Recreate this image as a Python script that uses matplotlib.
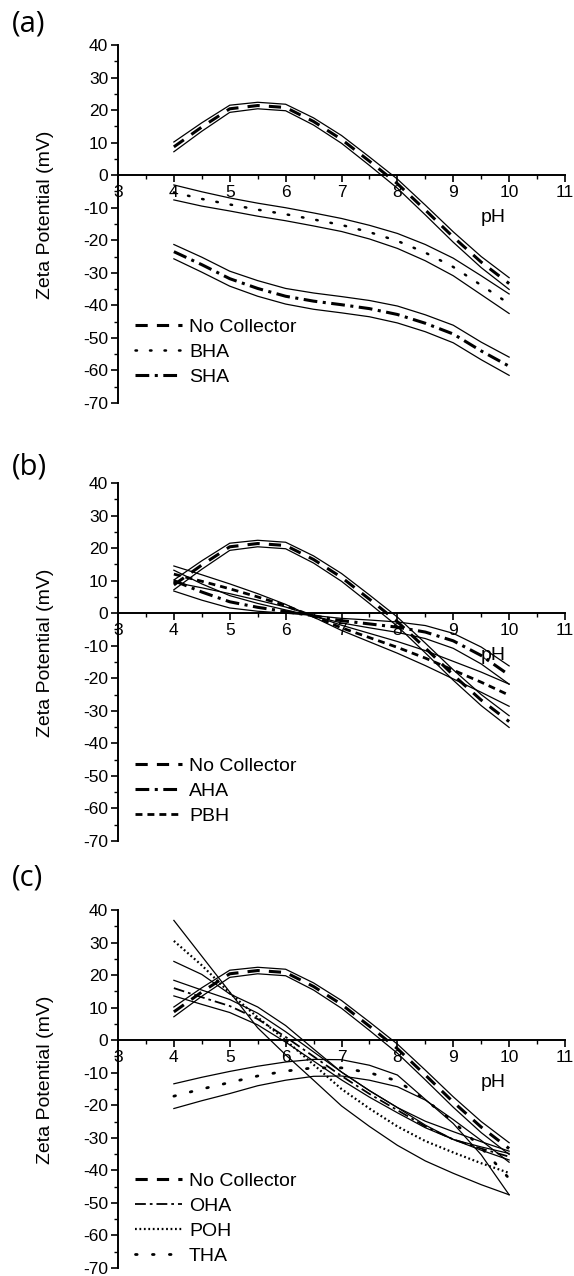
import matplotlib.pyplot as plt
import numpy as np

plt.rcParams['font.family'] = ['Liberation Sans', 'DejaVu Sans']
plt.rcParams['axes.unicode_minus'] = False

ph = [4, 4.5, 5, 5.5, 6, 6.5, 7, 7.5, 8, 8.5, 9, 9.5, 10]

# no collector (same in all three panels); err is half the band width,
# negative where the two band lines cross over
nocol = [8.7, 14.8, 20.4, 21.4, 20.8, 16.5, 11.0, 4.3, -2.6, -10.7, -19.0, -26.7, -33.3]
nocol_err = [1.5, 1.3, 1.1, 1.0, 1.0, 1.1, 1.2, 1.3, 1.4, 1.5, 1.6, 1.7, 1.8]

# panel (a)
bha = [-5.3, -7.3, -9.0, -10.6, -12.0, -13.6, -15.3, -17.5, -20.2, -23.8, -28.2, -33.8, -39.5]
bha_err = [2.3, 2.2, 2.0, 2.0, 2.0, 2.0, 2.0, 2.1, 2.3, 2.5, 2.7, 2.9, 3.0]
sha = [-23.5, -27.5, -31.8, -34.8, -37.2, -38.7, -39.8, -41.0, -42.8, -45.5, -48.8, -54.0, -58.7]
sha_err = [2.2, 2.3, 2.3, 2.4, 2.4, 2.5, 2.5, 2.5, 2.6, 2.6, 2.7, 2.7, 2.8]

# panel (b)
aha = [10.0, 6.5, 3.5, 1.8, 0.5, -0.8, -2.3, -3.3, -4.3, -5.8, -8.5, -13.0, -19.0]
aha_err = [3.2, 2.5, 1.9, 1.2, 0.5, -0.1, -0.7, -1.2, -1.6, -2.0, -2.3, -2.6, -2.8]
pbh = [12.0, 9.8, 7.5, 5.0, 2.3, -1.0, -4.5, -7.5, -10.5, -13.8, -17.5, -21.2, -25.2]
pbh_err = [2.5, 2.0, 1.5, 1.0, 0.4, -0.2, -0.8, -1.3, -1.8, -2.3, -2.7, -3.1, -3.4]

# panel (c)
oha = [16.0, 13.2, 10.5, 6.5, 1.0, -5.0, -11.0, -16.5, -21.5, -26.5, -30.5, -33.3, -35.8]
oha_err = [2.4, 2.2, 2.0, 1.8, 1.6, 1.4, 1.2, 1.0, 0.8, 0.4, 0.0, -0.5, -1.0]
poh = [30.5, 23.0, 14.5, 7.0, 0.0, -7.5, -15.0, -21.0, -26.5, -31.0, -34.5, -37.8, -40.8]
poh_err = [6.3, 2.8, 0.3, -3.2, -4.5, -4.8, -5.2, -5.5, -5.8, -6.1, -6.4, -6.6, -6.7]
tha = [-17.2, -15.0, -13.0, -11.0, -9.5, -8.5, -8.5, -10.0, -12.5, -18.3, -25.0, -33.0, -42.5]
tha_err = [3.8, 3.6, 3.4, 3.0, 2.8, 2.6, 2.5, 2.3, 1.8, 0.1, -0.6, -2.2, -5.0]

xticks = [3, 4, 5, 6, 7, 8, 9, 10, 11]
yticks = [-70, -60, -50, -40, -30, -20, -10, 0, 10, 20, 30, 40]

styles = {
    'No Collector': dict(lw=2.2, dashes=(4, 3)),
    'BHA': dict(lw=1.8, dashes=(0.6, 5.2), dash_capstyle='round'),
    'SHA': dict(lw=2.2, dashes=(4.5, 1.8, 1, 1.8)),
    'AHA': dict(lw=2.2, dashes=(4.5, 1.8, 1, 1.8)),
    'PBH': dict(lw=2.0, dashes=(2.5, 1.8)),
    'OHA': dict(lw=1.3, dashes=(6, 2.2, 1.5, 2.2)),
    'POH': dict(lw=1.6, dashes=(0.8, 1.2)),
    'THA': dict(lw=2.0, dashes=(0.6, 5.5), dash_capstyle='round'),
}


def band(ax, y, err, name):
    y = np.array(y)
    err = np.array(err)
    ax.plot(ph, y + err, color='black', lw=0.9)
    ax.plot(ph, y - err, color='black', lw=0.9)
    ax.plot(ph, y, color='black', label=name, **styles[name])


def setup(ax):
    ax.set_xlim(3, 11)
    ax.set_ylim(-70, 40)
    ax.spines['top'].set_visible(False)
    ax.spines['right'].set_visible(False)
    ax.spines['bottom'].set_position(('data', 0))
    ax.spines['bottom'].set_linewidth(1.4)
    ax.spines['left'].set_linewidth(1.4)
    ax.set_xticks(xticks)
    ax.set_yticks(yticks)
    ax.set_xticks(np.arange(3.5, 11, 1), minor=True)
    ax.set_yticks(np.arange(-65, 40, 10), minor=True)
    ax.tick_params(which='major', direction='out', length=5, width=1.2, labelsize=12.5)
    ax.tick_params(which='minor', direction='out', length=3, width=1.0)
    ax.tick_params(axis='x', pad=2)
    ax.tick_params(axis='y', pad=2)
    ax.text(9.71, -13, 'pH', fontsize=14, ha='center', va='center')
    ax.set_ylabel('Zeta Potential (mV)', fontsize=14)
    ax.yaxis.set_label_coords(-0.143, 0.525)


fig = plt.figure(figsize=(5.74, 12.76), dpi=100)
W, H = 574, 1276
left = 118 / W
width = 447 / W
height = 358 / H

ax_a = fig.add_axes([left, 1 - 403 / H, width, height])
ax_b = fig.add_axes([left, 1 - 841 / H, width, height])
ax_c = fig.add_axes([left, 1 - 1268 / H, width, height])

band(ax_a, nocol, nocol_err, 'No Collector')
band(ax_a, bha, bha_err, 'BHA')
band(ax_a, sha, sha_err, 'SHA')

band(ax_b, nocol, nocol_err, 'No Collector')
band(ax_b, aha, aha_err, 'AHA')
band(ax_b, pbh, pbh_err, 'PBH')

band(ax_c, nocol, nocol_err, 'No Collector')
band(ax_c, oha, oha_err, 'OHA')
band(ax_c, poh, poh_err, 'POH')
band(ax_c, tha, tha_err, 'THA')

for ax, top in [(ax_a, 0.236), (ax_b, 0.233), (ax_c, 0.267)]:
    setup(ax)
    ax.legend(loc='upper left', bbox_to_anchor=(0.039, top), frameon=False,
              fontsize=14, handlelength=2.4, handletextpad=0.35,
              labelspacing=0.38, borderpad=0, borderaxespad=0)

for label, ytop in [('(a)', 9), ('(b)', 453), ('(c)', 864)]:
    fig.text(12 / W, 1 - ytop / H, label, fontsize=21, va='top', ha='left',
             family=['Open Sans', 'DejaVu Sans'])

fig.savefig('out.png', dpi=100)
